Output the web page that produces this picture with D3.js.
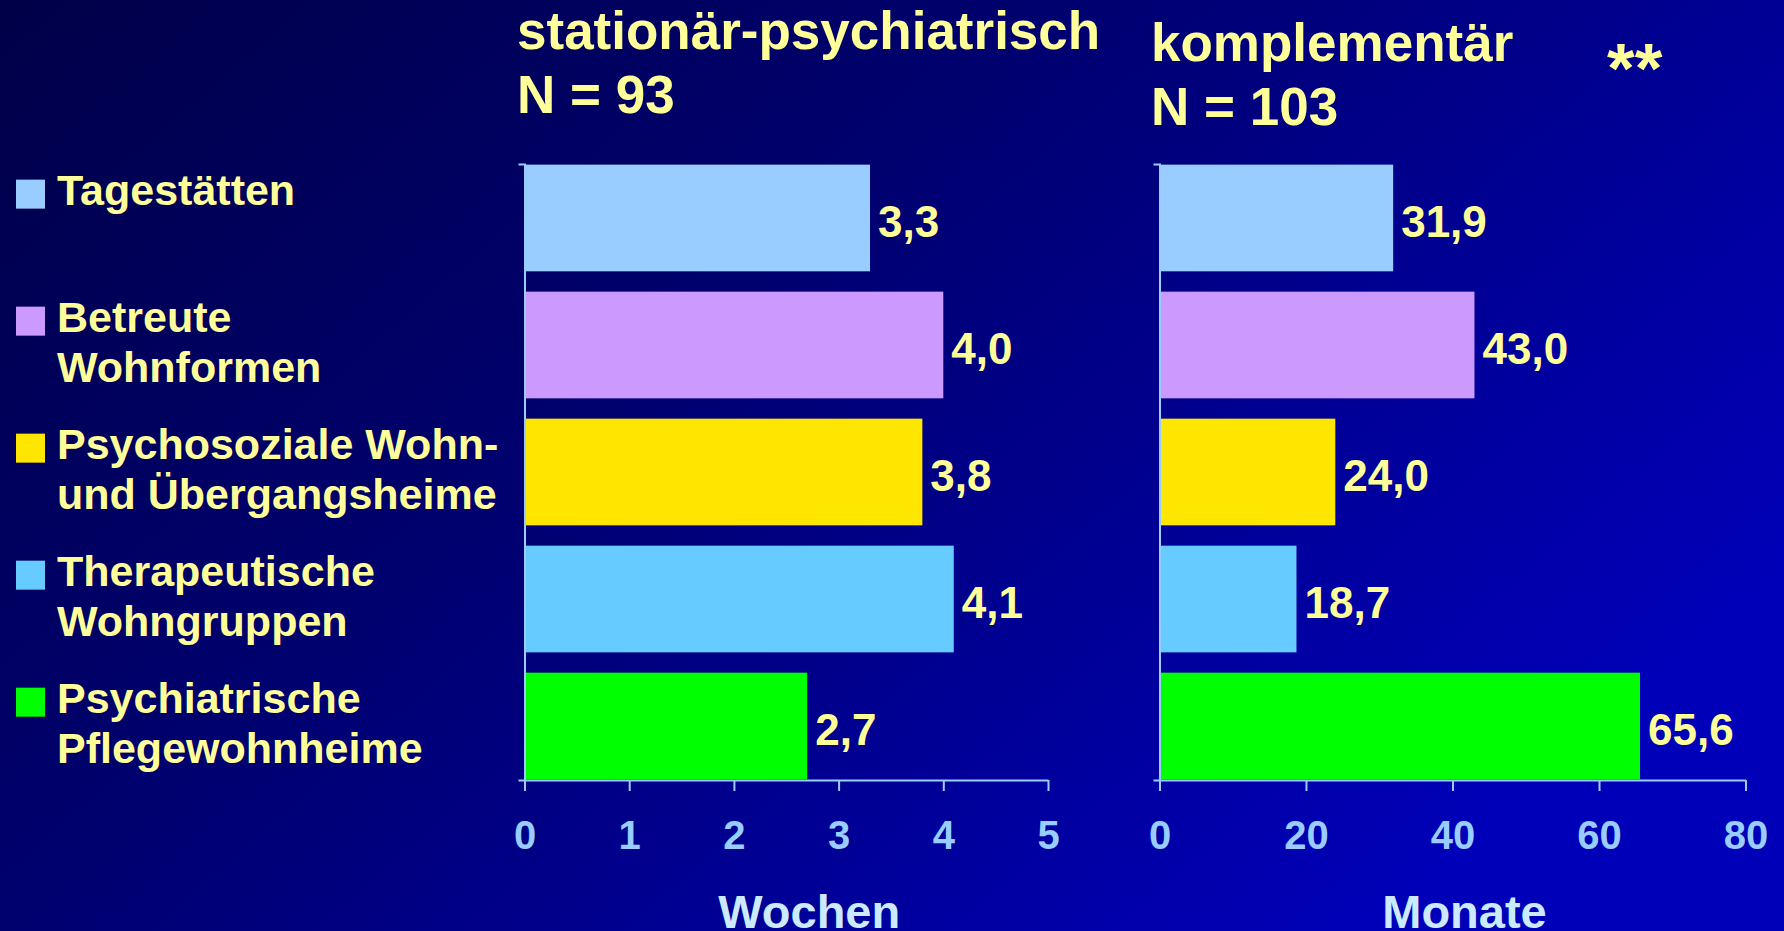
<!DOCTYPE html>
<html>
<head>
<meta charset="utf-8">
<script src="https://cdn.jsdelivr.net/npm/d3@7"></script>
<style>
  html, body { margin: 0; padding: 0; background: #000050; overflow: hidden; }
  svg { display: block; font-family: "Liberation Sans", Arial, Helvetica, sans-serif; font-weight: bold; }
</style>
</head>
<body>
<div id="chart"></div>
<script>
// categories (legend text split over lines)
var categories = ["Tagestätten", "Betreute Wohnformen", "Psychosoziale Wohn- und Übergangsheime", "Therapeutische Wohngruppen", "Psychiatrische Pflegewohnheime"]
var legendLines = [["Tagestätten"], ["Betreute", "Wohnformen"], ["Psychosoziale Wohn-", "und Übergangsheime"], ["Therapeutische", "Wohngruppen"], ["Psychiatrische", "Pflegewohnheime"]]
var colors = ["#99ccff", "#cc99ff", "#ffe600", "#66ccff", "#00ff00"]

// series
var stationaer = [3.3, 4.0, 3.8, 4.1, 2.7]      // Wochen
var komplementaer = [31.9, 43.0, 24.0, 18.7, 65.6] // Monate

var ticksLeft = [0, 1, 2, 3, 4, 5]
var ticksRight = [0, 20, 40, 60, 80]

var width = 1784, height = 931
var yellow = "#ffff99", axisBlue = "#99ccff", titleBlue = "#cceaff"

var svg = d3.select("#chart").append("svg")
	.attr("width", width)
	.attr("height", height)

var defs = svg.append("defs")
var grad = defs.append("linearGradient")
	.attr("id", "bg")
	.attr("x1", 0).attr("y1", 0)
	.attr("x2", 1).attr("y2", 0.6)
grad.append("stop").attr("offset", "0%").attr("stop-color", "#000048")
grad.append("stop").attr("offset", "45%").attr("stop-color", "#000070")
grad.append("stop").attr("offset", "100%").attr("stop-color", "#0000b8")

svg.append("rect")
	.attr("width", width)
	.attr("height", height)
	.attr("fill", "url(#bg)")

var y = d3.scaleBand()
	.domain(categories)
	.range([164, 780])
	.paddingInner(0.16)
	.paddingOuter(0.005)

function panel(values, domainMax, ticks, x0, x1, unit, unitShift, titleLines, titleX, titleY) {

	var x = d3.scaleLinear()
		.domain([0, domainMax])
		.range([x0, x1])

	var g = svg.append("g")

	g.selectAll("rect.bar")
		.data(values)
		.join("rect")
			.attr("class", "bar")
			.attr("x", x(0) + 1)
			.attr("y", (d, i) => y(categories[i]))
			.attr("width", d => x(d) - x(0) - 1)
			.attr("height", y.bandwidth())
			.attr("fill", (d, i) => colors[i])

	g.selectAll("text.val")
		.data(values)
		.join("text")
			.attr("class", "val")
			.attr("x", d => x(d) + 8)
			.attr("y", (d, i) => y(categories[i]) + 72)
			.attr("fill", yellow)
			.attr("font-size", 44)
			.text(d => d.toFixed(1).replace(".", ","))

	// category axis (only the line with end ticks)
	var yAxis = g.append("g")
		.attr("transform", `translate(${x(0)},0)`)
		.call(d3.axisLeft(y).tickValues([]).tickSizeOuter(6))
	yAxis.select(".domain").attr("stroke", axisBlue).attr("stroke-width", 2)

	var xAxis = g.append("g")
		.attr("transform", `translate(0,${y.range()[1]})`)
		.call(d3.axisBottom(x).tickValues(ticks).tickFormat(d3.format("d")).tickSize(11).tickSizeOuter(0).tickPadding(30))
	xAxis.select(".domain").attr("stroke", axisBlue).attr("stroke-width", 2)
	xAxis.selectAll(".tick line").attr("stroke", axisBlue).attr("stroke-width", 2)
	xAxis.selectAll(".tick text")
		.attr("fill", axisBlue)
		.attr("font-size", 40)
		.attr("font-family", "Liberation Sans, Arial, sans-serif")
		.attr("font-weight", "bold")
		.attr("dy", "0.71em")

	g.append("text")
		.attr("x", (x0 + x1) / 2 + unitShift)
		.attr("y", 928)
		.attr("text-anchor", "middle")
		.attr("fill", titleBlue)
		.attr("font-size", 47)
		.text(unit)

	titleLines.forEach((t, i) => {
		g.append("text")
			.attr("x", titleX)
			.attr("y", titleY + i * 64)
			.attr("fill", yellow)
			.attr("font-size", 53)
			.text(t)
	})
}

panel(stationaer, 5, ticksLeft, 524.5, 1048, "Wochen", 23, ["stationär-psychiatrisch", "N = 93"], 517, 49)
panel(komplementaer, 80, ticksRight, 1159.5, 1745.5, "Monate", 12, ["komplementär", "N = 103"], 1151, 61)

svg.append("text")
	.attr("x", 1607)
	.attr("y", 93)
	.attr("fill", yellow)
	.attr("font-size", 71)
	.text("**")

// legend
var legend = svg.append("g")
	.selectAll("g")
	.data(categories)
	.join("g")
		.attr("transform", d => `translate(0,${y(d)})`)

legend.append("rect")
	.attr("x", 16)
	.attr("y", 15)
	.attr("width", 29)
	.attr("height", 29)
	.attr("fill", (d, i) => colors[i])

legend.each(function(d, i) {
	var t = d3.select(this).append("text")
		.attr("fill", yellow)
		.attr("font-size", 43)
	legendLines[i].forEach((line, j) => {
		t.append("tspan")
			.attr("x", 57)
			.attr("y", 40 + j * 50)
			.text(line)
	})
})
</script>
</body>
</html>
